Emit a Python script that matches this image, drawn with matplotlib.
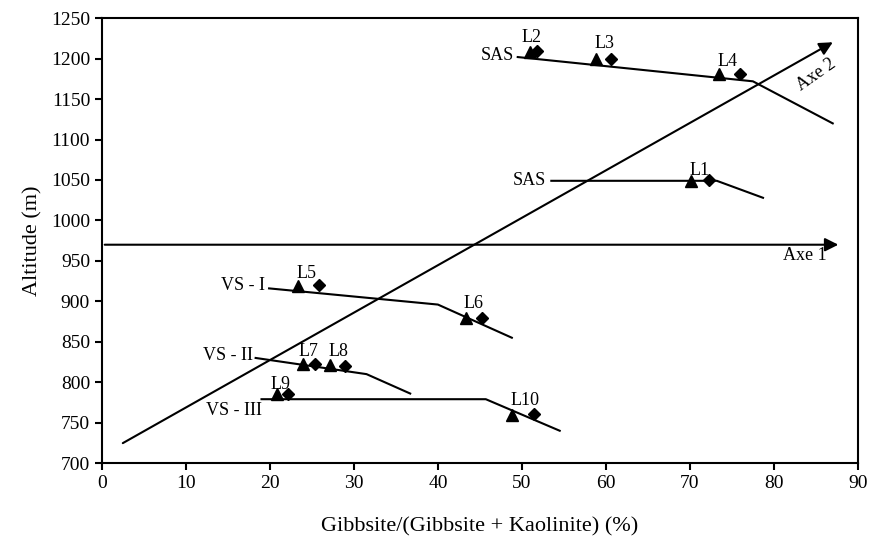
import matplotlib.pyplot as plt

plt.rcParams['font.family'] = ['Liberation Serif', 'DejaVu Serif']

# profile lines (x = gibbsite ratio %, y = altitude m)
sas_top_x = [49.5, 77.5, 87.0]
sas_top_y = [1202, 1172, 1120]
sas_low_x = [53.5, 73.2, 78.7]
sas_low_y = [1049, 1049, 1028]
vs1_x = [19.9, 40.0, 48.8]
vs1_y = [916, 896, 855]
vs2_x = [18.3, 31.5, 36.7]
vs2_y = [830, 810, 786]
vs3_x = [19.0, 45.7, 54.5]
vs3_y = [779, 779, 740]

# samples
labels = ['L1', 'L2', 'L3', 'L4', 'L5', 'L6', 'L7', 'L8', 'L9', 'L10']
tri_x = [70.1, 51.0, 58.8, 73.5, 23.3, 43.3, 23.9, 27.1, 20.8, 48.8]
tri_y = [1049, 1208, 1200, 1181, 919, 880, 822, 821, 785, 759]
dia_x = [72.3, 51.8, 60.6, 76.0, 25.8, 45.2, 25.4, 28.9, 22.2, 51.4]
dia_y = [1050, 1209, 1200, 1181, 920, 880, 822, 820, 785, 761]
lab_x = [71.1, 51.2, 59.8, 74.5, 24.4, 44.2, 24.6, 28.1, 21.3, 50.4]
lab_y = [1062, 1226, 1219, 1196, 934, 897, 838, 838, 797, 778]

# profile names
prof_names = ['SAS', 'SAS', 'VS - I', 'VS - II', 'VS - III']
prof_x = [49.0, 52.9, 19.4, 18.0, 19.0]
prof_y = [1204, 1049, 919, 833, 765]

# factor axes
axe1_x = [0, 88.0]
axe1_y = [970, 970]
axe2_x = [2.2, 87.3]
axe2_y = [723, 1222]

fig = plt.figure(figsize=(8.71, 5.36), dpi=100)
ax = fig.add_axes([0.117, 0.136, 0.868, 0.830])

for xs, ys in [(sas_top_x, sas_top_y), (sas_low_x, sas_low_y), (vs1_x, vs1_y),
               (vs2_x, vs2_y), (vs3_x, vs3_y)]:
    ax.plot(xs, ys, color='black', lw=1.5)

ax.plot(tri_x, tri_y, '^', color='black', ms=8.5, ls='none')
ax.plot(dia_x, dia_y, 'D', color='black', ms=6, ls='none')
for t, x, y in zip(labels, lab_x, lab_y):
    ax.text(x, y, t, fontsize=13, ha='center', va='center')
for t, x, y in zip(prof_names, prof_x, prof_y):
    ax.text(x, y, t, fontsize=13, ha='right', va='center')

arrow = dict(arrowstyle='-|>', color='black', lw=1.5, mutation_scale=20)
ax.annotate('', xy=(axe1_x[1], axe1_y[1]), xytext=(axe1_x[0], axe1_y[0]), arrowprops=arrow)
ax.annotate('', xy=(axe2_x[1], axe2_y[1]), xytext=(axe2_x[0], axe2_y[0]), arrowprops=arrow)
ax.text(83.7, 957, 'Axe 1', fontsize=13, ha='center', va='center')
ax.text(85.0, 1180, 'Axe 2', fontsize=13, ha='center', va='center', rotation=35)

ax.set_xlim(0, 90)
ax.set_ylim(700, 1250)
ax.set_xticks(range(0, 91, 10))
ax.set_yticks(range(700, 1251, 50))
ax.tick_params(direction='out', length=5, width=1.5, labelsize=14)
for s in ax.spines.values():
    s.set_linewidth(1.5)
ax.set_xlabel('Gibbsite/(Gibbsite + Kaolinite) (%)', fontsize=16, labelpad=18)
ax.set_ylabel('Altitude (m)', fontsize=16, labelpad=6)

fig.savefig('out.png', dpi=100)
